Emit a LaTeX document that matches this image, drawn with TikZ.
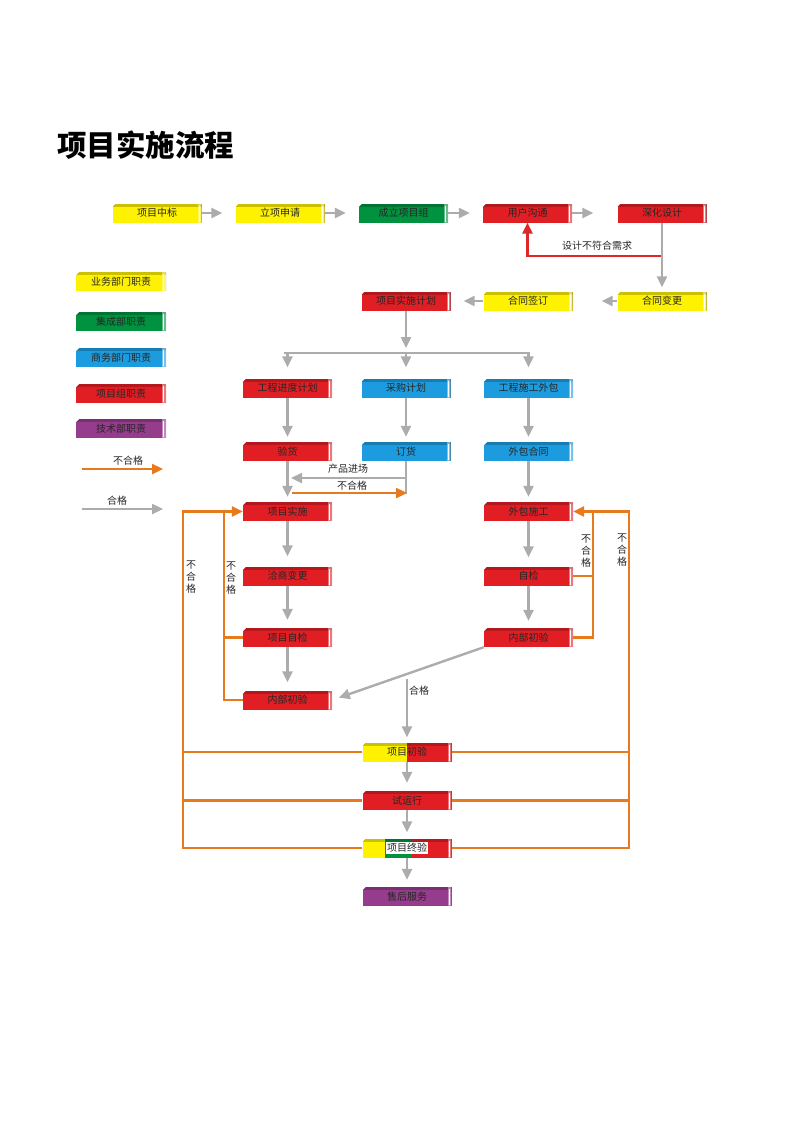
\documentclass[tikz,border=0pt]{standalone}
\usepackage{fontspec}
\newfontfamily\cjk{Noto Sans CJK SC}
\usetikzlibrary{arrows.meta}
\definecolor{cyel}{RGB}{255,242,0}
\definecolor{cgrn}{RGB}{0,146,63}
\definecolor{cblu}{RGB}{28,155,222}
\definecolor{cred}{RGB}{225,30,36}
\definecolor{cpur}{RGB}{150,60,140}
\definecolor{cora}{RGB}{232,122,30}
\definecolor{cgry}{RGB}{172,172,172}
\definecolor{cfb}{RGB}{220,40,40}
\newcommand\bevelpp{%
 \fill[black,opacity=.2] (path picture bounding box.north west) rectangle ([yshift=-3pt]path picture bounding box.north east);
 \fill[white] (path picture bounding box.north west) -- ++(3pt,0pt) -- ++(-3pt,-3pt) -- cycle;
 \fill[white,opacity=.4] ([xshift=-4pt]path picture bounding box.north east) rectangle (path picture bounding box.south east);
 \draw[white,line width=.7pt] ([xshift=-2.5pt,yshift=-2pt]path picture bounding box.north east) -- ([xshift=-2.5pt,yshift=1pt]path picture bounding box.south east);
 \draw[black,opacity=.35,line width=.5pt] ([xshift=-.25pt]path picture bounding box.north east) -- ([xshift=-.25pt]path picture bounding box.south east);}
\tikzset{
 bx/.style={fill=#1, minimum width=89pt, minimum height=19pt, inner sep=0pt,
   font=\cjk\fontsize{10}{10}\selectfont, text=black!85, path picture={\bevelpp}},
}
\begin{document}
\begin{tikzpicture}[x=1pt,y=-1pt,
 garrow/.style={draw=cgry, line width=2.4pt, -{Triangle[length=11pt,width=10pt]}},
 gline/.style={draw=cgry, line width=2.4pt},
 oarrow/.style={draw=cora, line width=2.4pt, -{Triangle[length=11pt,width=10pt]}},
 oline/.style={draw=cora, line width=2.4pt},
 rarrow/.style={draw=cfb, line width=2.4pt, -{Triangle[length=11pt,width=10pt]}},
 lbl/.style={font=\cjk\fontsize{10}{10}\selectfont, inner sep=0pt, text=black!85},
 vlbl/.style={font=\cjk\fontsize{10}{12}\selectfont, inner sep=0pt, align=center, text=black!85},
]
\useasboundingbox (0,0) rectangle (793,1122);
% title
\node[anchor=west, inner sep=0pt, font=\cjk\bfseries\fontsize{29.5}{31}\selectfont] (title) at (57,145) {项目实施流程};

% row 1
\node[bx=cyel] (A1) at (157,213) {项目中标};
\node[bx=cyel] (A2) at (280,213) {立项申请};
\node[bx=cgrn] (A3) at (403.5,213) {成立项目组};
\node[bx=cred] (A4) at (527.5,213) {用户沟通};
\node[bx=cred] (A5) at (662,213) {深化设计};
% row 2
\node[bx=cred] (B1) at (406,301) {项目实施计划};
\node[bx=cyel] (B2) at (528,301) {合同签订};
\node[bx=cyel] (B3) at (662,301) {合同变更};
% row 3
\node[bx=cred] (C1) at (287.5,388) {工程进度计划};
\node[bx=cblu] (C2) at (406,388) {采购计划};
\node[bx=cblu] (C3) at (528.5,388) {工程施工外包};
% row 4
\node[bx=cred] (D1) at (287.5,451.5) {验货};
\node[bx=cblu] (D2) at (406,451.5) {订货};
\node[bx=cblu] (D3) at (528.5,451.5) {外包合同};
% rows 5-8
\node[bx=cred] (E1) at (287.5,511.5) {项目实施};
\node[bx=cred] (E2) at (528.5,511.5) {外包施工};
\node[bx=cred] (F1) at (287.5,576) {洽商变更};
\node[bx=cred] (F2) at (528.5,576) {自检};
\node[bx=cred] (G1) at (287.5,637.5) {项目自检};
\node[bx=cred] (G2) at (528.5,637.5) {内部初验};
\node[bx=cred] (H1) at (287.5,700) {内部初验};
% bottom
\node[bx=cred, path picture={\fill[cyel] (path picture bounding box.south west) rectangle ([xshift=44pt]path picture bounding box.north west); \bevelpp}] (I1) at (407,752) {项目初验};
\node[bx=cred] (I2) at (407,800.5) {试运行};
\node[bx=cred, path picture={\fill[cyel] (path picture bounding box.south west) rectangle ([xshift=22pt]path picture bounding box.north west); \fill[cgrn] ([xshift=22pt]path picture bounding box.south west) rectangle ([xshift=49pt]path picture bounding box.north west); \bevelpp}] (I3) at (407,848) {\fboxsep=1pt\colorbox{white}{项目终验}};
\node[bx=cpur] (I4) at (407,896.5) {售后服务};

% legend
\node[bx=cyel, minimum width=90pt] (L1) at (121,281.5) {业务部门职责};
\node[bx=cgrn, minimum width=90pt] (L2) at (121,321.5) {集成部职责};
\node[bx=cblu, minimum width=90pt] (L3) at (121,357.5) {商务部门职责};
\node[bx=cred, minimum width=90pt] (L4) at (121,393.5) {项目组职责};
\node[bx=cpur, minimum width=90pt] (L5) at (121,428.5) {技术部职责};
\coordinate (lo1) at (82,469); \coordinate (lo2) at (163,469);
\coordinate (lg1) at (82,509); \coordinate (lg2) at (163,509);
\draw[oarrow] (lo1) -- (lo2);
\draw[garrow] (lg1) -- (lg2);
\node[lbl] (tlo) at (128,461) {不合格};
\node[lbl] (tlg) at (117,501) {合格};

% top row arrows
\draw[garrow, shorten >=13pt] (A1) -- (A2);
\draw[garrow, shorten >=13pt] (A2) -- (A3);
\draw[garrow, shorten >=13pt] (A3) -- (A4);
\draw[garrow, shorten >=24pt] (A4) -- (A5);
% feedback
\coordinate (fb) at (662,256);
\draw[rarrow, line join=miter] (fb) -| (A4.south);
\node[lbl] (tfb) at (597,246) {设计不符合需求};
\draw[garrow, shorten >=4pt] (A5) -- (B3);
\draw[garrow, shorten >=29pt] (B3) -- (B2);
\draw[garrow, shorten >=13pt] (B2) -- (B1);
% split bar
\coordinate (bL) at (287.5,353); \coordinate (bM) at (406,353); \coordinate (bR) at (528.5,353);
\draw[garrow, shorten >=5pt] (B1) -- (bM);
\draw[gline] ([xshift=-4pt]bL) -- ([xshift=1pt]bR);
\draw[garrow, shorten >=11pt] (bL) -- (C1);
\draw[garrow, shorten >=11pt] (bM) -- (C2);
\draw[garrow, shorten >=11pt] (bR) -- (C3);
% row 3 -> 4
\draw[garrow, shorten >=5pt] (C1) -- (D1);
\draw[garrow, shorten >=5pt] (C2) -- (D2);
\draw[garrow, shorten >=5pt] (C3) -- (D3);
% row 4 -> 5
\draw[garrow, shorten >=5pt] (D1) -- (E1);
\draw[garrow, shorten >=5pt] (D3) -- (E2);
\coordinate (dd) at (406,494); \coordinate (pj) at (406,478); \coordinate (pjL) at (291,478);
\coordinate (bhL) at (292,493); \coordinate (bhR) at (407,493);
\draw[gline] (D2) -- (dd);
\draw[garrow] (pj) -- (pjL);
\draw[oarrow] (bhL) -- (bhR);
\node[lbl] (tpj) at (348,469) {产品进场};
\node[lbl] (tbh) at (352,486) {不合格};
% left column
\draw[garrow, shorten >=10pt] (E1) -- (F1);
\draw[garrow, shorten >=8pt] (F1) -- (G1);
\draw[garrow, shorten >=8pt] (G1) -- (H1);
% right column
\draw[garrow, shorten >=9pt] (E2) -- (F2);
\draw[garrow, shorten >=7pt] (F2) -- (G2);
% diagonal & pass
\draw[garrow, shorten >=7pt] (G2.south west) -- (H1.east);
\coordinate (hg) at (407,679);
\draw[garrow, shorten >=5pt] (hg) -- (I1);
\node[lbl, anchor=west] (thg) at (409,691) {合格};
% bottom arrows
\draw[garrow, shorten >=8pt] (I1) -- (I2);
\draw[garrow, shorten >=6pt] (I2) -- (I3);
\draw[garrow, shorten >=7pt] (I3) -- (I4);
% orange loops left
\coordinate (oL1) at (224,511.5); \coordinate (oL2) at (183,511.5);
\draw[oarrow] (G1.west) -| (oL1) -- (E1.west);
\draw[oline] (H1.west) -| (oL1);
\draw[oline] (I3.west) -| (oL2) -- (oL1);
\draw[oline] (I1.west) -- (I1.west -| oL2);
\draw[oline] (I2.west) -- (I2.west -| oL2);
% orange loops right
\coordinate (oR1) at (593,511.5); \coordinate (oR2) at (629,511.5);
\draw[oarrow] (F2.east) -| (oR1) -- (E2.east);
\draw[oline] (G2.east) -| (oR1);
\draw[oline] (I3.east) -| (oR2) -- (oR1);
\draw[oline] (I1.east) -- (I1.east -| oR2);
\draw[oline] (I2.east) -- (I2.east -| oR2);
% vertical labels
\node[vlbl] (v1) at (191,577) {不\\合\\格};
\node[vlbl] (v2) at (231,578) {不\\合\\格};
\node[vlbl] (v3) at (586,551) {不\\合\\格};
\node[vlbl] (v4) at (622,550) {不\\合\\格};
\end{tikzpicture}
\end{document}
